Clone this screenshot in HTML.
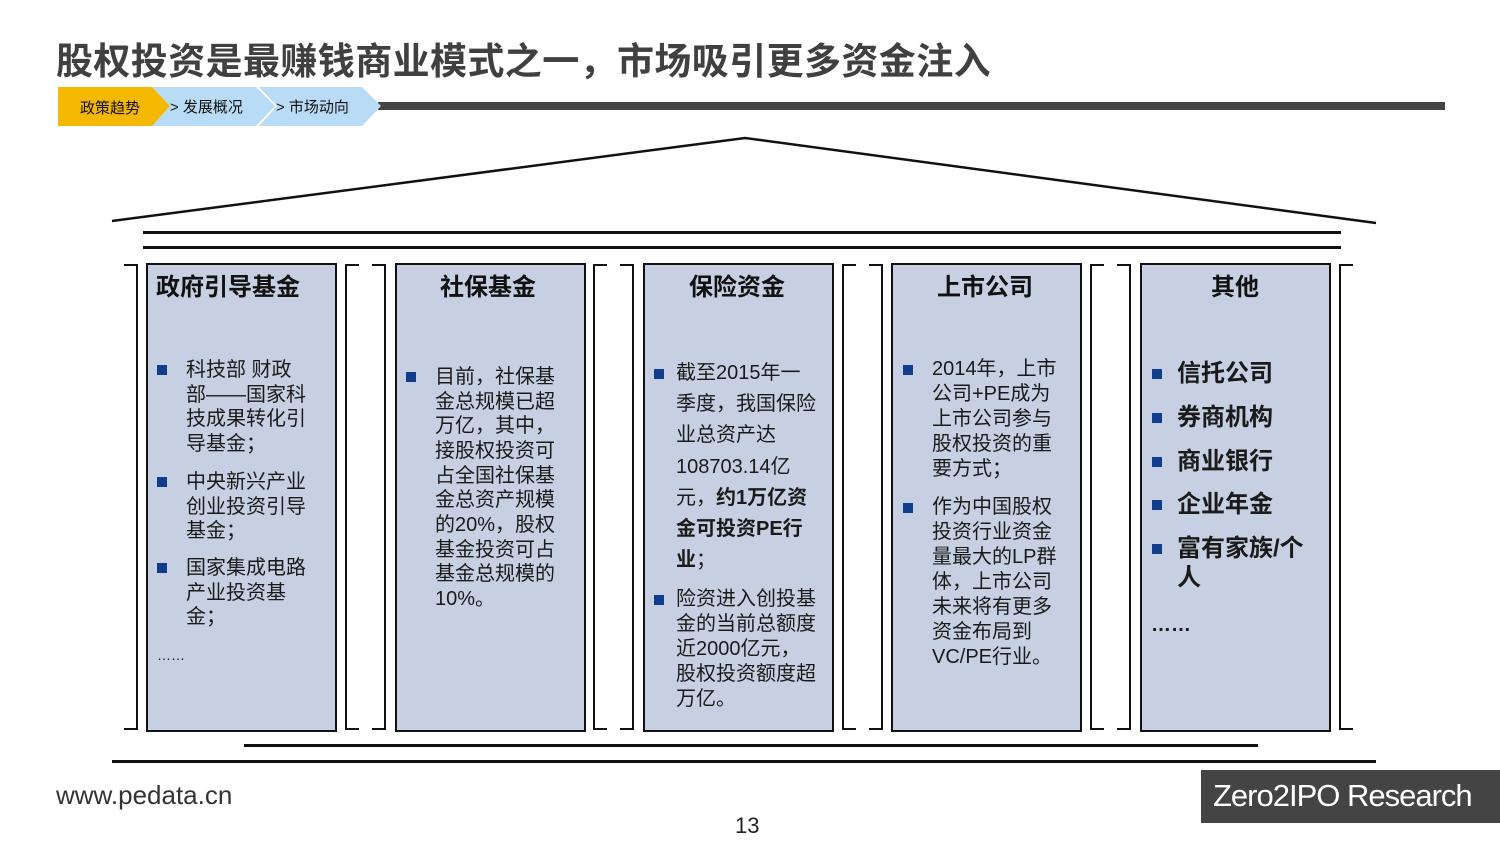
<!DOCTYPE html>
<html><head><meta charset="utf-8"><style>
*{margin:0;padding:0;box-sizing:border-box}
body{width:1500px;height:844px;background:#fff;position:relative;overflow:hidden;font-family:"Liberation Sans","Noto Sans CJK SC",sans-serif;color:#111}
.a{position:absolute;white-space:nowrap}
.box{position:absolute;top:263px;width:191px;height:469px;background:#c6d0e2;border:2.5px solid #111}
.t{position:absolute;font-size:20px;line-height:24px;white-space:nowrap;color:#1a1a1a}
.b{font-weight:bold}
.bl{position:absolute;width:10px;height:10px;background:#123c8c}
.h{position:absolute;top:274px;font-size:24px;font-weight:bold;line-height:28px;white-space:nowrap}
.br{position:absolute;top:264px;width:14px;height:466px;border:2.5px solid #111}
.L{border-left:none}.R{border-right:none}
.ln{position:absolute;height:2.5px;background:#111}
</style></head><body>
<div class="a" style="left:56px;top:31px;font-size:37px;letter-spacing:0.4px;font-weight:bold;color:#404040">股权投资是最赚钱商业模式之一，市场吸引更多资金注入</div>
<svg class="a" style="left:0;top:0" width="1500" height="844">
<rect x="378" y="102" width="1067" height="8" fill="#444"/>
<polygon points="259,87 362,87 381,106 362,126 259,126 277,106" fill="#b8dcf5"/>
<polygon points="152,87 256,87 275,106 256,126 152,126 170,106" fill="#b8dcf5"/>
<polygon points="58,87 152,87 170,106 152,126 58,126" fill="#f5b800"/>
<polyline points="112,221 745,138 1376,223" fill="none" stroke="#111" stroke-width="2.5"/>
</svg>
<div class="a" style="left:80px;top:97px;font-size:15px">政策趋势</div>
<div class="a" style="left:170px;top:96px;font-size:15px">&gt; 发展概况</div>
<div class="a" style="left:276px;top:96px;font-size:15px">&gt; 市场动向</div>
<div class="ln" style="left:143px;top:231px;width:1198px"></div>
<div class="ln" style="left:143px;top:246px;width:1198px"></div>
<div class="ln" style="left:244px;top:744px;width:1014px"></div>
<div class="ln" style="left:112px;top:760px;width:1264px"></div>

<div class="br L" style="left:124px"></div>
<div class="br R" style="left:345px"></div><div class="br L" style="left:372px"></div>
<div class="br R" style="left:593px"></div><div class="br L" style="left:620px"></div>
<div class="br R" style="left:842px"></div><div class="br L" style="left:869px"></div>
<div class="br R" style="left:1090px"></div><div class="br L" style="left:1117px"></div>
<div class="br R" style="left:1339px"></div>

<div class="box" style="left:146px"></div>
<div class="box" style="left:395px"></div>
<div class="box" style="left:643px"></div>
<div class="box" style="left:891px"></div>
<div class="box" style="left:1140px"></div>

<div class="h" style="left:156px">政府引导基金</div>
<div class="h" style="left:440px">社保基金</div>
<div class="h" style="left:689px">保险资金</div>
<div class="h" style="left:937px">上市公司</div>
<div class="h" style="left:1211px">其他</div>

<!-- box1 -->
<div class="bl" style="left:157px;top:365px"></div>
<div class="t" style="left:186px;top:358px">科技部 财政</div>
<div class="t" style="left:186px;top:383px">部——国家科</div>
<div class="t" style="left:186px;top:407px">技成果转化引</div>
<div class="t" style="left:186px;top:432px">导基金；</div>
<div class="bl" style="left:157px;top:477px"></div>
<div class="t" style="left:186px;top:470px">中央新兴产业</div>
<div class="t" style="left:186px;top:495px">创业投资引导</div>
<div class="t" style="left:186px;top:519px">基金；</div>
<div class="bl" style="left:157px;top:563px"></div>
<div class="t" style="left:186px;top:556px">国家集成电路</div>
<div class="t" style="left:186px;top:581px">产业投资基</div>
<div class="t" style="left:186px;top:605px">金；</div>
<div class="t" style="left:157px;top:643px;font-size:14px">……</div>

<!-- box2 -->
<div class="bl" style="left:406px;top:372px"></div>
<div class="t" style="left:435px;top:365px">目前，社保基</div>
<div class="t" style="left:435px;top:390px">金总规模已超</div>
<div class="t" style="left:435px;top:414px">万亿，其中，</div>
<div class="t" style="left:435px;top:439px">接股权投资可</div>
<div class="t" style="left:435px;top:464px">占全国社保基</div>
<div class="t" style="left:435px;top:488px">金总资产规模</div>
<div class="t" style="left:435px;top:513px">的20%，股权</div>
<div class="t" style="left:435px;top:538px">基金投资可占</div>
<div class="t" style="left:435px;top:562px">基金总规模的</div>
<div class="t" style="left:435px;top:587px">10%。</div>

<!-- box3 -->
<div class="bl" style="left:654px;top:369px"></div>
<div class="t" style="left:676px;top:361px">截至2015年一</div>
<div class="t" style="left:676px;top:392px">季度，我国保险</div>
<div class="t" style="left:676px;top:423px">业总资产达</div>
<div class="t" style="left:676px;top:455px">108703.14亿</div>
<div class="t" style="left:676px;top:486px">元，<b>约1万亿资</b></div>
<div class="t b" style="left:676px;top:517px">金可投资PE行</div>
<div class="t" style="left:676px;top:548px"><b>业</b>；</div>
<div class="bl" style="left:654px;top:595px"></div>
<div class="t" style="left:676px;top:587px">险资进入创投基</div>
<div class="t" style="left:676px;top:612px">金的当前总额度</div>
<div class="t" style="left:676px;top:637px">近2000亿元，</div>
<div class="t" style="left:676px;top:662px">股权投资额度超</div>
<div class="t" style="left:676px;top:687px">万亿。</div>

<!-- box4 -->
<div class="bl" style="left:903px;top:365px"></div>
<div class="t" style="left:932px;top:357px">2014年，上市</div>
<div class="t" style="left:932px;top:382px">公司+PE成为</div>
<div class="t" style="left:932px;top:407px">上市公司参与</div>
<div class="t" style="left:932px;top:432px">股权投资的重</div>
<div class="t" style="left:932px;top:457px">要方式；</div>
<div class="bl" style="left:903px;top:503px"></div>
<div class="t" style="left:932px;top:495px">作为中国股权</div>
<div class="t" style="left:932px;top:520px">投资行业资金</div>
<div class="t" style="left:932px;top:545px">量最大的LP群</div>
<div class="t" style="left:932px;top:570px">体，上市公司</div>
<div class="t" style="left:932px;top:595px">未来将有更多</div>
<div class="t" style="left:932px;top:620px">资金布局到</div>
<div class="t" style="left:932px;top:645px">VC/PE行业。</div>

<!-- box5 -->
<div class="bl" style="left:1152px;top:369px"></div>
<div class="t b" style="left:1177px;top:360px;font-size:24px;line-height:28px">信托公司</div>
<div class="bl" style="left:1152px;top:413px"></div>
<div class="t b" style="left:1177px;top:404px;font-size:24px;line-height:28px">券商机构</div>
<div class="bl" style="left:1152px;top:457px"></div>
<div class="t b" style="left:1177px;top:448px;font-size:24px;line-height:28px">商业银行</div>
<div class="bl" style="left:1152px;top:500px"></div>
<div class="t b" style="left:1177px;top:491px;font-size:24px;line-height:28px">企业年金</div>
<div class="bl" style="left:1152px;top:544px"></div>
<div class="t b" style="left:1177px;top:535px;font-size:24px;line-height:28px">富有家族/个</div>
<div class="t b" style="left:1177px;top:564px;font-size:24px;line-height:28px">人</div>
<div class="t b" style="left:1151px;top:613px">……</div>

<div class="a" style="left:56px;top:780px;font-size:26px;color:#333">www.pedata.cn</div>
<div class="a" style="left:735px;top:813px;font-size:22px;color:#222">13</div>
<div class="a" style="left:1201px;top:770px;width:299px;height:53px;background:#444"></div>
<div class="a" style="left:1213px;top:778px;font-size:31px;color:#fff;letter-spacing:-1px">Zero2IPO Research</div>
</body></html>
